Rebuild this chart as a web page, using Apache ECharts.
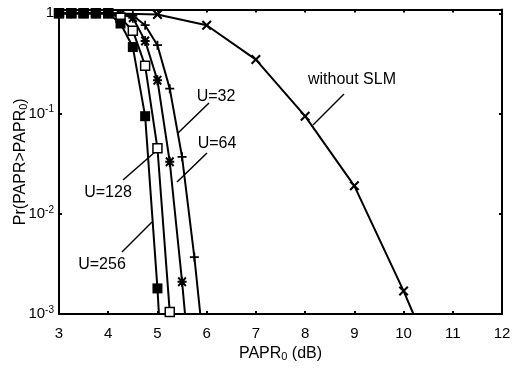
<!DOCTYPE html>
<html>
<head>
<meta charset="utf-8">
<script src="https://cdn.jsdelivr.net/npm/echarts@6/dist/echarts.min.js"></script>
<style>
  html, body { margin: 0; padding: 0; background: #fff; }
  #main { width: 516px; height: 368px; }
</style>
</head>
<body>
<div id="main"></div>
<script>
// PAPR thresholds (dB) and CCDF values
const xNoSlm = [3, 4, 5, 6, 7, 8, 9, 10];
const pNoSlm = [1, 1, 0.97, 0.76, 0.345, 0.094, 0.019, 0.0017];
const endNoSlm = [10.2, 0.001];

const x32 = [3, 3.25, 3.5, 3.75, 4, 4.25, 4.5, 4.75, 5, 5.25, 5.5, 5.75];
const p32 = [1, 1, 1, 1, 1, 0.99, 0.95, 0.76, 0.48, 0.177, 0.037, 0.0037];
const end32 = [5.87, 0.001];

const x64 = [3, 3.25, 3.5, 3.75, 4, 4.25, 4.5, 4.75, 5, 5.25, 5.5];
const p64 = [1, 1, 1, 1, 1, 0.98, 0.9, 0.53, 0.215, 0.033, 0.0021];
const end64 = [5.56, 0.001];

const x128 = [3, 3.25, 3.5, 3.75, 4, 4.25, 4.5, 4.75, 5, 5.25];
const p128 = [1, 1, 1, 1, 1, 0.9, 0.67, 0.3, 0.045, 0.00105];

const x256 = [3, 3.25, 3.5, 3.75, 4, 4.25, 4.5, 4.75, 5];
const p256 = [1, 1, 1, 1, 1, 0.79, 0.46, 0.094, 0.0018];
const end256 = [5.03, 0.001];

const FONT = '"Liberation Sans", Arial, Helvetica, sans-serif';

const plusPath = 'path://M4,0H6V4H10V6H6V10H4V6H0V4H4Z';
const crossPath = 'path://M0,1.5L1.5,0L5,3.5L8.5,0L10,1.5L6.5,5L10,8.5L8.5,10L5,6.5L1.5,10L0,8.5L3.5,5Z';
const starPath = 'path://M4,0H6V4H10V6H6V10H4V6H0V4H4Z M0,1.5L1.5,0L5,3.5L8.5,0L10,1.5L6.5,5L10,8.5L8.5,10L5,6.5L1.5,10L0,8.5L3.5,5Z';

function toData(xs, ps, end) {
  const d = xs.map((x, i) => [x, ps[i]]);
  if (end) d.push({ value: end, symbol: 'none' });
  return d;
}

function curve(name, data, symbol, size, fill, border) {
  return {
    name: name,
    type: 'line',
    data: data,
    symbol: symbol,
    symbolSize: size,
    showAllSymbol: true,
    lineStyle: { color: '#000', width: 2 },
    itemStyle: { color: fill, borderColor: border || fill, borderWidth: border ? 1.5 : 0 },
    emphasis: { disabled: true },
    z: 3
  };
}

const myChart = echarts.init(document.getElementById('main'), null, { renderer: 'canvas' });

const logLabel = function (v) {
  const e = Math.log10(v);
  if (Math.abs(e - Math.round(e)) > 1e-6) return '';
  const n = Math.round(e);
  if (n === 0) return '1';
  return '{b|10}{s|' + n + '}';
};

const option = {
  animation: false,
  textStyle: { fontFamily: FONT },
  grid: { left: 59, right: 14, top: 9.5, bottom: 54, outerBoundsMode: 'none', containLabel: false },
  xAxis: [
    {
      type: 'value', min: 3, max: 12, interval: 1,
      position: 'bottom',
      name: '{b|PAPR}{s|0}{b| (dB)}',
      nameLocation: 'middle', nameGap: 31, nameMoveOverlap: false,
      nameTextStyle: {
        rich: {
          b: { fontSize: 16, color: '#000', fontFamily: FONT },
          s: { fontSize: 11, color: '#000', fontFamily: FONT, verticalAlign: 'bottom', padding: [6, 0, 0, 0] }
        }
      },
      axisLine: { lineStyle: { color: '#000', width: 2 } },
      axisTick: { inside: true, length: 3, lineStyle: { color: '#000', width: 2 } },
      axisLabel: { color: '#000', fontSize: 15, margin: 12, fontFamily: FONT },
      splitLine: { show: false }
    },
    {
      type: 'value', min: 3, max: 12, interval: 1,
      position: 'top',
      axisLine: { lineStyle: { color: '#000', width: 2 } },
      axisTick: { inside: true, length: 3, lineStyle: { color: '#000', width: 2 } },
      axisLabel: { show: false },
      splitLine: { show: false }
    }
  ],
  yAxis: [
    {
      type: 'log', logBase: 10, min: 0.001, max: 1.09,
      position: 'left',
      name: '{b|Pr(PAPR>PAPR}{s|0}{b|)}',
      nameLocation: 'middle', nameGap: 30, nameRotate: 90, nameMoveOverlap: false,
      nameTextStyle: {
        rich: {
          b: { fontSize: 16, color: '#000', fontFamily: FONT },
          s: { fontSize: 11, color: '#000', fontFamily: FONT, verticalAlign: 'bottom', padding: [6, 0, 0, 0] }
        }
      },
      axisLine: { lineStyle: { color: '#000', width: 2 } },
      axisTick: { inside: true, length: 3, lineStyle: { color: '#000', width: 2 } },
      axisLabel: {
        color: '#000', fontSize: 15, margin: 5, fontFamily: FONT,
        formatter: logLabel,
        rich: {
          b: { fontSize: 15, color: '#000', fontFamily: FONT },
          s: { fontSize: 10, color: '#000', fontFamily: FONT, verticalAlign: 'top', padding: [0, 0, 8, 0] }
        }
      },
      splitLine: { show: false },
      minorTick: { show: false }
    },
    {
      type: 'log', logBase: 10, min: 0.001, max: 1.09,
      position: 'right',
      axisLine: { lineStyle: { color: '#000', width: 2 } },
      axisTick: { inside: true, length: 3, lineStyle: { color: '#000', width: 2 } },
      axisLabel: { show: false },
      splitLine: { show: false }
    }
  ],
  series: [
    curve('without SLM', toData(xNoSlm, pNoSlm, endNoSlm), crossPath, 10, '#000'),
    curve('U=32', toData(x32, p32, end32), plusPath, 9, '#000'),
    curve('U=64', toData(x64, p64, end64), starPath, [9, 10], '#000'),
    curve('U=128', toData(x128, p128, null), 'rect', 9, '#fff', '#000'),
    curve('U=256', toData(x256, p256, end256), 'rect', 10, '#000')
  ],
  graphic: [
    { type: 'text', x: 352, y: 80, style: { text: 'without SLM', font: '16px ' + FONT, fill: '#000', align: 'center', verticalAlign: 'middle' } },
    { type: 'line', shape: { x1: 344, y1: 94, x2: 313, y2: 125 }, style: { stroke: '#000', lineWidth: 1.5 } },
    { type: 'text', x: 216, y: 97, style: { text: 'U=32', font: '16px ' + FONT, fill: '#000', align: 'center', verticalAlign: 'middle' } },
    { type: 'line', shape: { x1: 209, y1: 103, x2: 178, y2: 133 }, style: { stroke: '#000', lineWidth: 1.5 } },
    { type: 'text', x: 217, y: 144, style: { text: 'U=64', font: '16px ' + FONT, fill: '#000', align: 'center', verticalAlign: 'middle' } },
    { type: 'line', shape: { x1: 207, y1: 153, x2: 177, y2: 182 }, style: { stroke: '#000', lineWidth: 1.5 } },
    { type: 'text', x: 108, y: 193, style: { text: 'U=128', font: '16px ' + FONT, fill: '#000', align: 'center', verticalAlign: 'middle' } },
    { type: 'line', shape: { x1: 123, y1: 180, x2: 155, y2: 152 }, style: { stroke: '#000', lineWidth: 1.5 } },
    { type: 'text', x: 102, y: 265, style: { text: 'U=256', font: '16px ' + FONT, fill: '#000', align: 'center', verticalAlign: 'middle' } },
    { type: 'line', shape: { x1: 122, y1: 252, x2: 152, y2: 222 }, style: { stroke: '#000', lineWidth: 1.5 } }
  ]
};

option && myChart.setOption(option);
</script>
</body>
</html>
